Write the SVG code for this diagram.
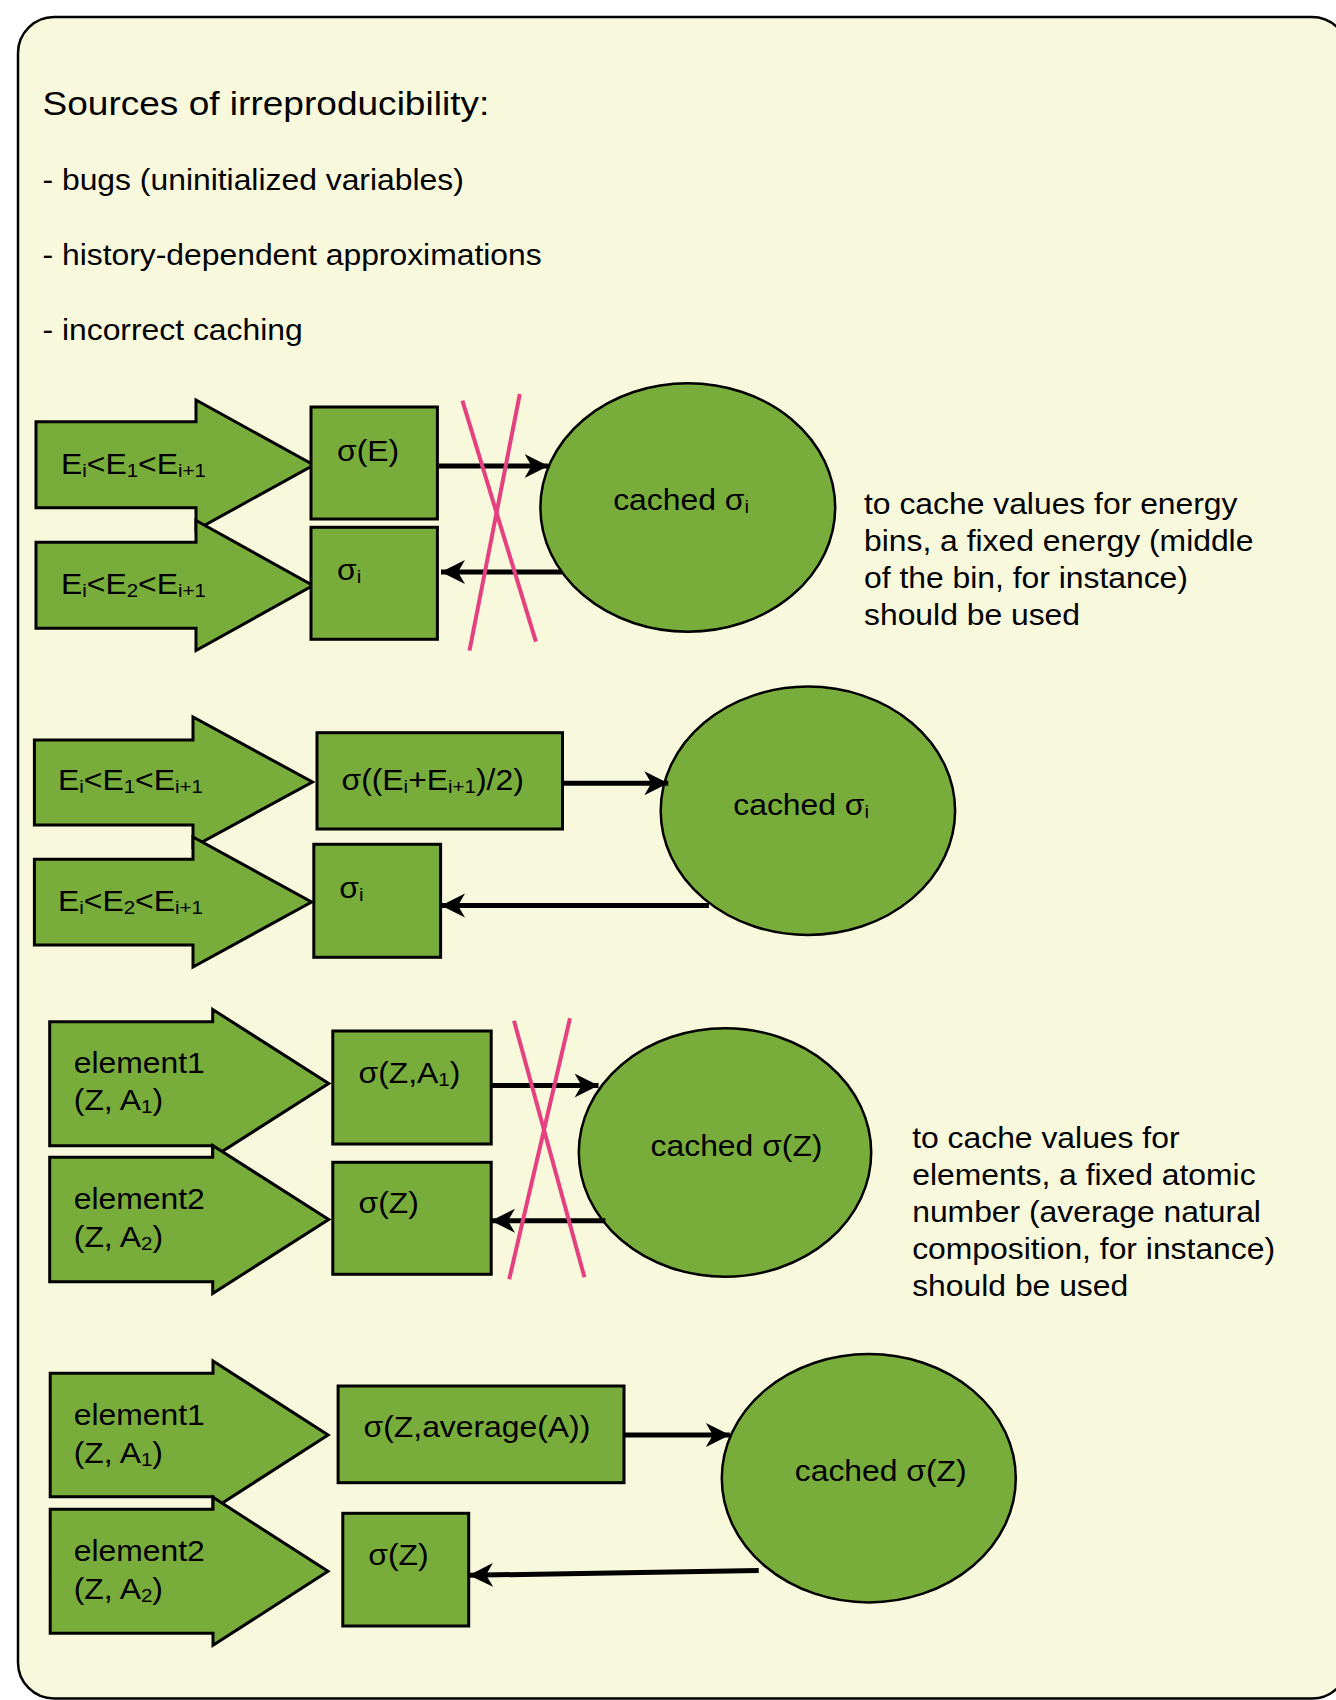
<svg xmlns="http://www.w3.org/2000/svg" width="1336" height="1700" viewBox="0 0 1336 1700">
  <style>
    .t { font-family: "Liberation Sans", Arial, Helvetica, sans-serif; font-size: 29.5px; fill: #000; }
    .title { font-size: 34px; }
    .s { font-size: 19px; }
    .shape { fill: #78ac3b; stroke: #000; stroke-width: 3; stroke-linejoin: miter; }
    .oval { fill: #78ac3b; stroke: #000; stroke-width: 2.5; }
    .conn { fill: none; stroke: #000; stroke-width: 5; marker-end: url(#head); }
    .cross { stroke: #e5407f; stroke-width: 4; stroke-linecap: butt; }
  </style>
  <defs>
    <marker id="head" viewBox="0 0 26 26" markerWidth="26" markerHeight="26" refX="24" refY="13" orient="auto" markerUnits="userSpaceOnUse">
      <path d="M0,1 L24,13 L0,25 L7,13 Z" fill="#000"/>
    </marker>
  </defs>

  <!-- panel -->
  <rect id="panel" x="18" y="17" width="1330" height="1681.5" rx="36" ry="36" fill="#f8f8dc" stroke="#000" stroke-width="2.5"/>

  <!-- heading and bullet list -->
  <g id="intro">
    <text class="t title" transform="translate(42.5,115) scale(1.09,1)">Sources of irreproducibility:</text>
    <text class="t" transform="translate(42.5,190) scale(1.08,1)">- bugs (uninitialized variables)</text>
    <text class="t" transform="translate(42.5,265) scale(1.08,1)">- history-dependent approximations</text>
    <text class="t" transform="translate(42.5,340) scale(1.08,1)">- incorrect caching</text>
  </g>

  <!-- ===== row 1: energy bins, cached per E ===== -->
  <g id="r1-in1">
    <polygon class="shape" points="36,421.7 196,421.7 196,400 313.8,465 196,530 196,507.7 36,507.7"/>
    <text class="t" transform="translate(61,474) scale(1.08,1)">E<tspan class="s" dy="3">i</tspan><tspan dy="-3">&lt;E</tspan><tspan class="s" dy="3">1</tspan><tspan dy="-3">&lt;E</tspan><tspan class="s" dy="3">i+1</tspan></text>
  </g>
  <g id="r1-in2">
    <polygon class="shape" points="36,542.3 196,542.3 196,520.5 313,585.5 196,650.5 196,628.3 36,628.3"/>
    <text class="t" transform="translate(61,593.5) scale(1.08,1)">E<tspan class="s" dy="3">i</tspan><tspan dy="-3">&lt;E</tspan><tspan class="s" dy="3">2</tspan><tspan dy="-3">&lt;E</tspan><tspan class="s" dy="3">i+1</tspan></text>
  </g>
  <g id="r1-eval">
    <rect class="shape" x="311" y="407" width="126.4" height="112"/>
    <text class="t" transform="translate(337,461) scale(1.08,1)">σ(E)</text>
  </g>
  <g id="r1-result">
    <rect class="shape" x="311" y="527.3" width="126.4" height="112"/>
    <text class="t" transform="translate(337,580) scale(1.08,1)">σ<tspan class="s" dy="3">i</tspan></text>
  </g>
  <g id="r1-cache">
    <ellipse class="oval" cx="687.8" cy="507.5" rx="147.4" ry="124.2"/>
    <text class="t" transform="translate(613.2,510) scale(1.08,1)">cached σ<tspan class="s" dy="3">i</tspan></text>
  </g>
  <g id="r1-note">
    <text class="t" transform="translate(864,513.5) scale(1.08,1)">to cache values for energy</text>
    <text class="t" transform="translate(864,550.5) scale(1.08,1)">bins, a fixed energy (middle</text>
    <text class="t" transform="translate(864,587.5) scale(1.08,1)">of the bin, for instance)</text>
    <text class="t" transform="translate(864,624.5) scale(1.08,1)">should be used</text>
  </g>

  <!-- ===== row 2: energy bins, cached at bin middle ===== -->
  <g id="r2-in1">
    <polygon class="shape" points="34.4,740 193,740 193,717 312.5,782 193,847 193,825 34.4,825"/>
    <text class="t" transform="translate(58,790) scale(1.08,1)">E<tspan class="s" dy="3">i</tspan><tspan dy="-3">&lt;E</tspan><tspan class="s" dy="3">1</tspan><tspan dy="-3">&lt;E</tspan><tspan class="s" dy="3">i+1</tspan></text>
  </g>
  <g id="r2-in2">
    <polygon class="shape" points="34.4,859.3 193,859.3 193,837 311.6,902 193,967 193,945 34.4,945"/>
    <text class="t" transform="translate(58,910.7) scale(1.08,1)">E<tspan class="s" dy="3">i</tspan><tspan dy="-3">&lt;E</tspan><tspan class="s" dy="3">2</tspan><tspan dy="-3">&lt;E</tspan><tspan class="s" dy="3">i+1</tspan></text>
  </g>
  <g id="r2-eval">
    <rect class="shape" x="317" y="732.7" width="245.5" height="96.3"/>
    <text class="t" transform="translate(341.5,790) scale(1.08,1)">σ((E<tspan class="s" dy="3">i</tspan><tspan dy="-3">+E</tspan><tspan class="s" dy="3">i+1</tspan><tspan dy="-3">)/2)</tspan></text>
  </g>
  <g id="r2-result">
    <rect class="shape" x="313.8" y="844.3" width="126.8" height="113"/>
    <text class="t" transform="translate(339.3,898.3) scale(1.08,1)">σ<tspan class="s" dy="3">i</tspan></text>
  </g>
  <g id="r2-cache">
    <ellipse class="oval" cx="807.9" cy="810.8" rx="147.2" ry="124.2"/>
    <text class="t" transform="translate(733.3,815) scale(1.08,1)">cached σ<tspan class="s" dy="3">i</tspan></text>
  </g>

  <!-- ===== row 3: isotopes, cached per element (wrong) ===== -->
  <g id="r3-in1">
    <polygon class="shape" points="49.7,1021.7 212.7,1021.7 212.7,1009.5 328.7,1083.5 212.7,1157.5 212.7,1145.7 49.7,1145.7"/>
    <text class="t" transform="translate(73.8,1073.3) scale(1.08,1)">element1</text>
    <text class="t" transform="translate(73.8,1110) scale(1.08,1)">(Z, A<tspan class="s" dy="3">1</tspan><tspan dy="-3">)</tspan></text>
  </g>
  <g id="r3-in2">
    <polygon class="shape" points="49.7,1157.3 212.7,1157.3 212.7,1145.5 328.7,1219.5 212.7,1293.5 212.7,1281.7 49.7,1281.7"/>
    <text class="t" transform="translate(73.8,1209.3) scale(1.08,1)">element2</text>
    <text class="t" transform="translate(73.8,1246.7) scale(1.08,1)">(Z, A<tspan class="s" dy="3">2</tspan><tspan dy="-3">)</tspan></text>
  </g>
  <g id="r3-eval">
    <rect class="shape" x="332.8" y="1031" width="158.4" height="113"/>
    <text class="t" transform="translate(358.5,1083.3) scale(1.08,1)">σ(Z,A<tspan class="s" dy="3">1</tspan><tspan dy="-3">)</tspan></text>
  </g>
  <g id="r3-result">
    <rect class="shape" x="332.8" y="1162.3" width="158.4" height="112"/>
    <text class="t" transform="translate(358.5,1213.3) scale(1.08,1)">σ(Z)</text>
  </g>
  <g id="r3-cache">
    <ellipse class="oval" cx="725" cy="1152.5" rx="146.2" ry="124.2"/>
    <text class="t" transform="translate(650.6,1156) scale(1.08,1)">cached σ(Z)</text>
  </g>
  <g id="r3-note">
    <text class="t" transform="translate(912.2,1148.3) scale(1.08,1)">to cache values for</text>
    <text class="t" transform="translate(912.2,1185) scale(1.08,1)">elements, a fixed atomic</text>
    <text class="t" transform="translate(912.2,1222) scale(1.08,1)">number (average natural</text>
    <text class="t" transform="translate(912.2,1259) scale(1.08,1)">composition, for instance)</text>
    <text class="t" transform="translate(912.2,1296) scale(1.08,1)">should be used</text>
  </g>

  <!-- ===== row 4: isotopes, cached with averaged A ===== -->
  <g id="r4-in1">
    <polygon class="shape" points="50.2,1373.3 213,1373.3 213,1361 328.1,1435 213,1509 213,1496.7 50.2,1496.7"/>
    <text class="t" transform="translate(73.7,1425) scale(1.08,1)">element1</text>
    <text class="t" transform="translate(73.7,1463.3) scale(1.08,1)">(Z, A<tspan class="s" dy="3">1</tspan><tspan dy="-3">)</tspan></text>
  </g>
  <g id="r4-in2">
    <polygon class="shape" points="50.2,1509.3 213,1509.3 213,1497.3 328,1571.3 213,1645.3 213,1633.3 50.2,1633.3"/>
    <text class="t" transform="translate(73.7,1560.7) scale(1.08,1)">element2</text>
    <text class="t" transform="translate(73.7,1599.3) scale(1.08,1)">(Z, A<tspan class="s" dy="3">2</tspan><tspan dy="-3">)</tspan></text>
  </g>
  <g id="r4-eval">
    <rect class="shape" x="338.1" y="1386" width="285.9" height="96.7"/>
    <text class="t" transform="translate(363.6,1436.7) scale(1.08,1)">σ(Z,average(A))</text>
  </g>
  <g id="r4-result">
    <rect class="shape" x="342.8" y="1513.3" width="125.9" height="112.7"/>
    <text class="t" transform="translate(368.3,1565) scale(1.08,1)">σ(Z)</text>
  </g>
  <g id="r4-cache">
    <ellipse class="oval" cx="868.8" cy="1478.2" rx="147" ry="124.2"/>
    <text class="t" transform="translate(794.8,1481) scale(1.08,1)">cached σ(Z)</text>
  </g>

  <!-- connectors -->
  <g id="connectors">
    <line class="conn" x1="439" y1="466" x2="548.5" y2="466"/>
    <line class="conn" x1="562" y1="572" x2="441" y2="572"/>
    <line class="conn" x1="562.5" y1="783.3" x2="668.3" y2="783.3"/>
    <line class="conn" x1="709" y1="905.5" x2="441" y2="905.5"/>
    <line class="conn" x1="491.2" y1="1085.5" x2="598.5" y2="1085.5"/>
    <line class="conn" x1="605.4" y1="1220.7" x2="491" y2="1220.7"/>
    <line class="conn" x1="624" y1="1435" x2="729.9" y2="1435"/>
    <line class="conn" x1="758.7" y1="1570.5" x2="469" y2="1575.3"/>
  </g>

  <!-- strike-through crosses over the invalid caching paths -->
  <g id="cross-r1">
    <line class="cross" x1="462.4" y1="400.7" x2="535.9" y2="641.7"/>
    <line class="cross" x1="519.8" y1="394" x2="469.5" y2="650.7"/>
  </g>
  <g id="cross-r3">
    <line class="cross" x1="514" y1="1020.7" x2="584.5" y2="1277.3"/>
    <line class="cross" x1="570" y1="1018.3" x2="509.2" y2="1279.3"/>
  </g>
</svg>
